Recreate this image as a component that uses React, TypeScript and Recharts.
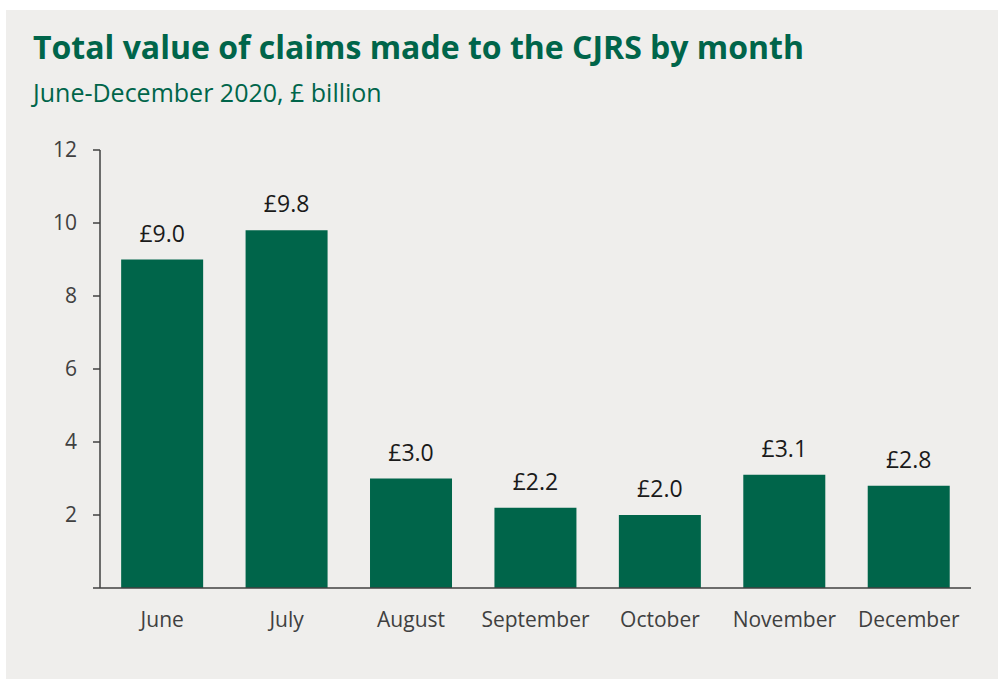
import React from 'react';
import { BarChart, Bar, XAxis, YAxis, LabelList } from 'recharts';

const months = ['June', 'July', 'August', 'September', 'October', 'November', 'December'];
const claimValues = [9.0, 9.8, 3.0, 2.2, 2.0, 3.1, 2.8];
const yTicks = [0, 2, 4, 6, 8, 10, 12];

const data = months.map((month, i) => ({ month, value: claimValues[i] }));

const GREEN = '#00654a';
const FONT = '"Open Sans", sans-serif';

const App: React.FC = () => {
  return (
    <div
      style={{
        position: 'fixed',
        left: 6,
        top: 10,
        width: 992,
        height: 669,
        background: '#efeeec',
        fontFamily: FONT,
      }}
    >
      <div
        style={{
          position: 'absolute',
          left: 27,
          top: 21,
          fontSize: 32,
          lineHeight: 1,
          fontWeight: 700,
          color: GREEN,
          whiteSpace: 'nowrap',
        }}
      >
        Total value of claims made to the CJRS by month
      </div>
      <div
        style={{
          position: 'absolute',
          left: 27,
          top: 70,
          fontSize: 25,
          lineHeight: 1,
          color: GREEN,
          whiteSpace: 'nowrap',
        }}
      >
        June-December 2020, £ billion
      </div>
      <BarChart
        width={992}
        height={669}
        data={data}
        margin={{ top: 140, right: 27, left: 0, bottom: 31 }}
        barCategoryGap="17%"
      >
        <XAxis
          dataKey="month"
          height={60}
          tickLine={false}
          tickSize={0}
          tickMargin={24}
          axisLine={{ stroke: '#404040', strokeWidth: 1.5 }}
          tick={{ fill: '#404040', fontSize: 21, fontFamily: FONT }}
        />
        <YAxis
          width={94}
          domain={[0, 12]}
          ticks={yTicks}
          interval={0}
          tickSize={7}
          tickMargin={16}
          tickFormatter={(v: number) => (v === 0 ? '' : String(v))}
          axisLine={{ stroke: '#404040', strokeWidth: 1.5 }}
          tickLine={{ stroke: '#404040', strokeWidth: 1.5 }}
          tick={{ fill: '#404040', fontSize: 21, fontFamily: FONT }}
        />
        <Bar dataKey="value" fill={GREEN} isAnimationActive={false}>
          <LabelList
            dataKey="value"
            position="top"
            offset={18}
            formatter={(v: number) => `£${v.toFixed(1)}`}
            style={{ fill: '#1a1a1a', fontSize: 23, fontFamily: FONT }}
          />
        </Bar>
      </BarChart>
    </div>
  );
};

export default App;
